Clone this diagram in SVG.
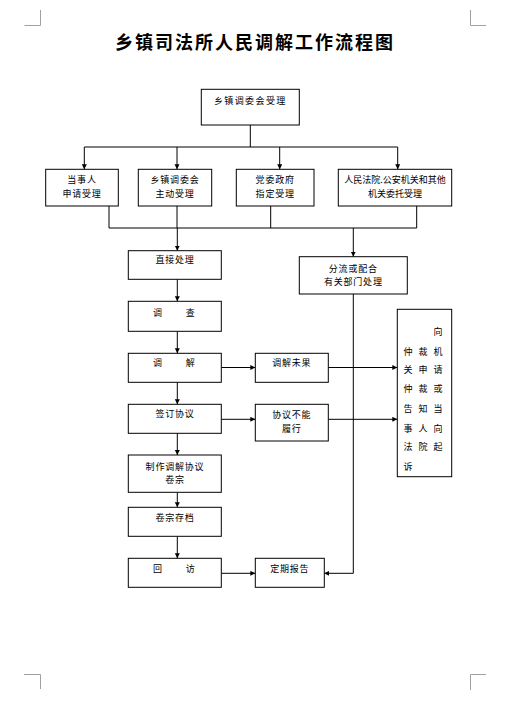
<svg xmlns="http://www.w3.org/2000/svg" width="519" height="716" viewBox="0 0 519 716">
<defs>
<style>
.box{fill:#fff;stroke:#000;stroke-width:1}
.t{font-family:"Noto Sans CJK SC","Liberation Sans",sans-serif;font-size:9px;fill:#000;text-anchor:middle;letter-spacing:0.8px}
.c{stroke:#000;stroke-width:1;fill:none}
.a{marker-end:url(#ah)}
.crop{stroke:#a0a0a0;stroke-width:1;fill:none}
</style>
<marker id="ah" markerWidth="6" markerHeight="6" refX="5" refY="2.5" orient="auto" markerUnits="userSpaceOnUse">
<path d="M0,0 L5,2.5 L0,5 z" fill="#000"/>
</marker>
</defs>
<rect width="519" height="716" fill="#fff"/>
<g id="cropmarks">
<path class="crop" d="M24.5,25.5 H40.5 V10"/>
<path class="crop" d="M486,25.5 H470.5 V10"/>
<path class="crop" d="M24,674.5 H40.5 V689"/>
<path class="crop" d="M486,674.5 H470.5 V690"/>
</g>
<text x="255" y="49" style="font-family:'Noto Sans CJK SC',sans-serif;font-size:18px;font-weight:bold;text-anchor:middle;letter-spacing:2px" fill="#000">乡镇司法所人民调解工作流程图</text>
<g id="connectors">
<path class="c" d="M250.3,125 V147"/>
<path class="c" d="M84.3,147 H397.7"/>
<path class="c a" d="M84.3,147 V169.3"/>
<path class="c a" d="M177,147 V169.3"/>
<path class="c a" d="M279.7,147 V169.3"/>
<path class="c a" d="M397.7,147 V169.3"/>
<path class="c" d="M109,206 V228 M177,206 V228 M270.7,206 V228 M416.7,206 V228 M109,228 H416.7"/>
<path class="c a" d="M177.3,228 V250.7"/>
<path class="c a" d="M353.3,228 V256.7"/>
<path class="c a" d="M177.3,279.3 V301.3"/>
<path class="c a" d="M177.3,331.3 V353.3"/>
<path class="c a" d="M177.3,382.3 V404.3"/>
<path class="c a" d="M177.3,433.3 V455"/>
<path class="c a" d="M177.3,492.3 V507.3"/>
<path class="c a" d="M177.3,536.3 V558.3"/>
<path class="c a" d="M221.3,367.5 H255.3"/>
<path class="c a" d="M328.3,367.5 H397.3"/>
<path class="c a" d="M221.3,419.3 H255.3"/>
<path class="c a" d="M328.3,419.3 H397.3"/>
<path class="c a" d="M221.3,573.3 H255.3"/>
<path class="c a" d="M353.3,294 V573.3 H324.3"/>
</g>
<g id="n-top"><rect class="box" x="201.3" y="89.3" width="98" height="35.7"/><text class="t" x="250.3" y="103.5" style="letter-spacing:1.4px">乡镇调委会受理</text></g>
<g id="n-dangshiren"><rect class="box" x="45.7" y="169.3" width="72.6" height="36.7"/><text class="t" x="82" y="183.3">当事人</text><text class="t" x="82" y="196.6">申请受理</text></g>
<g id="n-zhudong"><rect class="box" x="138.3" y="169.3" width="73.4" height="36.7"/><text class="t" x="175" y="183.3">乡镇调委会</text><text class="t" x="175" y="196.6">主动受理</text></g>
<g id="n-dangwei"><rect class="box" x="236.3" y="169.3" width="77.7" height="36.7"/><text class="t" x="275.2" y="183.3">党委政府</text><text class="t" x="275.2" y="196.6">指定受理</text></g>
<g id="n-fayuan"><rect class="box" x="338.3" y="169.3" width="113.4" height="36.7"/><text class="t" x="395" y="183.3" style="letter-spacing:0px">人民法院.公安机关和其他</text><text class="t" x="395" y="196.6" style="letter-spacing:0px">机关委托受理</text></g>
<g id="n-zhijie"><rect class="box" x="128.3" y="250.7" width="93" height="28.6"/><text class="t" x="175" y="263.3">直接处理</text></g>
<g id="n-fenliu"><rect class="box" x="299.3" y="256.7" width="108" height="37.3"/><text class="t" x="353.3" y="271.5">分流或配合</text><text class="t" x="353.3" y="284.9">有关部门处理</text></g>
<g id="n-diaocha"><rect class="box" x="128.3" y="301.3" width="93" height="30"/><text class="t" x="158" y="315.5">调</text><text class="t" x="190.7" y="315.5">查</text></g>
<g id="n-tiaojie"><rect class="box" x="128.3" y="353.3" width="93" height="29"/><text class="t" x="158" y="366.3">调</text><text class="t" x="190.7" y="366.3">解</text></g>
<g id="n-weiguo"><rect class="box" x="255.3" y="353.3" width="73" height="29"/><text class="t" x="291.8" y="366.3">调解未果</text></g>
<g id="n-qianding"><rect class="box" x="128.3" y="404.3" width="93" height="29"/><text class="t" x="175" y="417.3">签订协议</text></g>
<g id="n-buneng"><rect class="box" x="255.3" y="404.3" width="73" height="36.7"/><text class="t" x="291.8" y="417.5">协议不能</text><text class="t" x="291.8" y="431.5">履行</text></g>
<g id="n-right"><rect class="box" x="397.3" y="309.3" width="54.4" height="167.4"/>
<text class="t" y="334.9" x="438.3">向</text>
<text class="t" y="354.9" x="408.3 423.3 438.3">仲裁机</text>
<text class="t" y="373.2" x="408.3 423.3 438.3">关申请</text>
<text class="t" y="392.2" x="408.3 423.3 438.3">仲裁或</text>
<text class="t" y="411.5" x="408.3 423.3 438.3">告知当</text>
<text class="t" y="431.5" x="408.3 423.3 438.3">事人向</text>
<text class="t" y="449.9" x="408.3 423.3 438.3">法院起</text>
<text class="t" y="469.9" x="408.3">诉</text>
</g>
<g id="n-zhizuo"><rect class="box" x="128.3" y="455" width="93" height="37.3"/><text class="t" x="175" y="469.9">制作调解协议</text><text class="t" x="175" y="483.2">卷宗</text></g>
<g id="n-cundang"><rect class="box" x="128.3" y="507.3" width="93" height="29"/><text class="t" x="175" y="520.5">卷宗存档</text></g>
<g id="n-huifang"><rect class="box" x="128.3" y="558.3" width="93" height="29"/><text class="t" x="158" y="571.5">回</text><text class="t" x="190.7" y="571.5">访</text></g>
<g id="n-baogao"><rect class="box" x="255.3" y="558.3" width="69" height="29"/><text class="t" x="289.8" y="571.5">定期报告</text></g>
</svg>
